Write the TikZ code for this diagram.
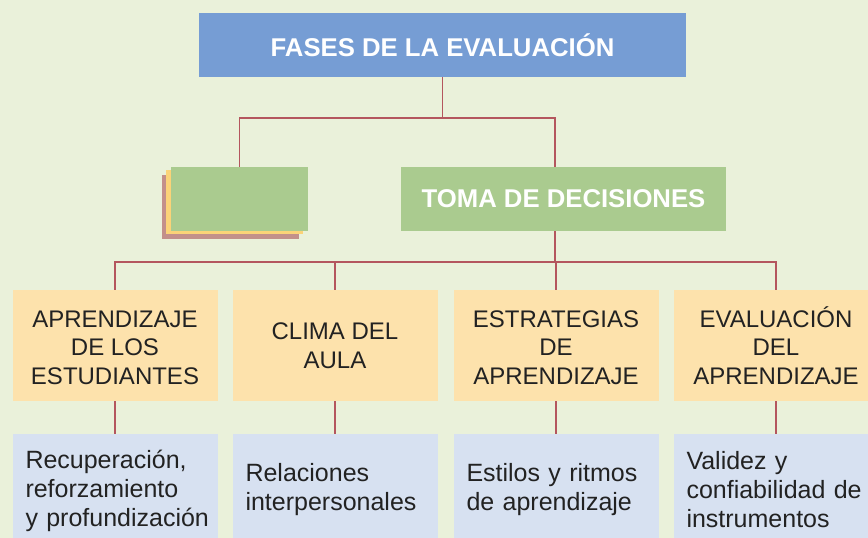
\documentclass[tikz,border=0pt]{standalone}
\usepackage{fontspec}
\setmainfont{Liberation Sans}
\definecolor{bgGreen}{HTML}{EAF1DA}
\definecolor{wireRed}{HTML}{B4565E}
\definecolor{titleBlue}{HTML}{769DD4}
\definecolor{sheetGreen}{HTML}{AACB8F}
\definecolor{sheetYellow}{HTML}{FBD378}
\definecolor{sheetBrown}{HTML}{C3908A}
\definecolor{branchOrange}{HTML}{FDE2AC}
\definecolor{leafBlue}{HTML}{D7E1F1}
\definecolor{textGrey}{HTML}{222222}

\begin{document}
\begin{tikzpicture}
[x=1pt, y=-1pt,
 wireDecorate/.style={draw=wireRed, line width=1.3pt},
 headDecorate/.style={shape=rectangle, inner sep=0pt, text=white, font=\fontsize{25.7}{30}\selectfont\bfseries},
 sheetDecorate/.style={shape=rectangle, inner sep=0pt, minimum width=137pt, minimum height=64pt},
 branchDecorate/.style={shape=rectangle, fill=branchOrange, minimum width=205pt, minimum height=111pt, align=center, text=textGrey, font=\fontsize{24}{28.5}\selectfont},
 leafDecorate/.style={shape=rectangle, fill=leafBlue, minimum height=111pt, inner xsep=13pt, text width=179pt, align=left, text=textGrey, font=\fontsize{25}{28.8}\selectfont}]

 \useasboundingbox (0,0) rectangle (868,538);
 \fill[bgGreen] (0,0) rectangle (868,538);

 \node (fases) at (442.5,45) [headDecorate, fill=titleBlue, minimum width=487pt, minimum height=64pt] {FASES DE LA EVALUACIÓN};

 \foreach \sheetname/\x/\y/\col in {
A/230.5/206.5/sheetBrown,
B/234.5/202/sheetYellow,
C/239.5/199/sheetGreen%
 }
 {
          \node (sheet\sheetname) at (\x,\y) [sheetDecorate, fill=\col] {};
 }

 \node (toma) at (563.5,199) [headDecorate, fill=sheetGreen, minimum width=325pt, minimum height=64pt] {TOMA DE DECISIONES};

 \foreach \i/\x/\txt in {
1/115/{\vphantom{Ó}APRENDIZAJE\\DE LOS\\ESTUDIANTES},
2/335/{CLIMA DEL\\AULA},
3/556/{\vphantom{Ó}ESTRATEGIAS\\DE\\APRENDIZAJE},
4/776/{EVALUACIÓN\\DEL\\APRENDIZAJE}%
 }
 {
          \node (branch\i) at (\x,345.5) [branchDecorate] {\txt};
 }

 \foreach \i/\x/\txt in {
1/115/{\vphantom{Ó}Recuperación,\\reforzamiento\\\mbox{y profundización}},
2/335/{Relaciones\\interpersonales},
3/556/{Estilos y ritmos\\de aprendizaje},
4/776/{Validez y\\\mbox{confiabilidad de}\\instrumentos}%
 }
 {
          \node (leaf\i) at (\x,489.5) [leafDecorate] {\txt};
 }

 \coordinate (busTop) at (442.5,118);
 \coordinate (busTopR) at (555,118);
 \coordinate (busMid) at (555,262);

 % upper tree
 \draw[wireDecorate] (fases.south) -- (busTop);
 \draw[wireDecorate] (sheetC.north) |- (busTopR) -- (busTopR |- toma.north);
 \draw[wireDecorate] (busMid |- toma.south) -- (busMid);

 % lower tree
 \draw[wireDecorate] (branch1.north) |- (busMid) -| (branch4.north);
 \draw[wireDecorate] (branch2.north) -- (branch2.north |- busMid);
 \draw[wireDecorate] (branch3.north) -- (branch3.north |- busMid);

\path
\foreach \i in {1,2,3,4}
        {
          (branch\i) edge[wireDecorate] (leaf\i)
 };

\end{tikzpicture}
\end{document}
